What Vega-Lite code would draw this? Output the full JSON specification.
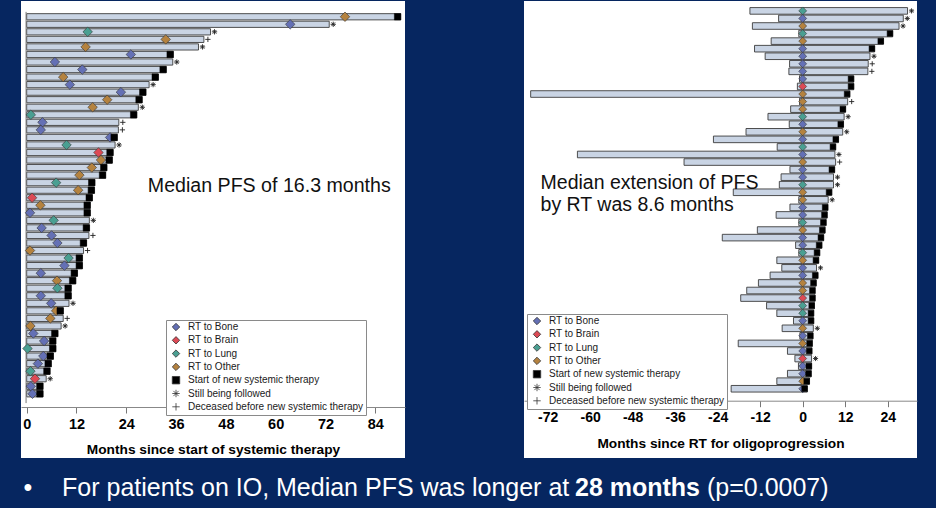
{
  "$schema": "https://vega.github.io/schema/vega-lite/v6.json",
  "background": "#062660",
  "padding": {"left": 21, "top": 1, "right": 19, "bottom": 0},
  "config": {"view": {"stroke": null}, "font": "Liberation Sans"},
  "spacing": 0,
  "resolve": {"scale": {"x": "independent", "y": "independent", "color": "independent", "shape": "independent"}, "legend": {"color": "independent", "shape": "independent"}},
  "vconcat": [
    {
      "hconcat": [
        {
          "width": 384,
          "height": 457,
          "view": {"fill": "white"},
          "data": {"values": [
            {"row":1,"rt_t":76.7,"end":90.1,"site":"Other","evt":"S"},
            {"row":2,"rt_t":63.5,"end":72.9,"site":"Bone","evt":"F"},
            {"row":3,"rt_t":14.7,"end":44.3,"site":"Lung","evt":"F"},
            {"row":4,"rt_t":33.5,"end":42.7,"site":"Other","evt":"D"},
            {"row":5,"rt_t":14.2,"end":41.4,"site":"Other","evt":"F"},
            {"row":6,"rt_t":25.1,"end":35.3,"site":"Bone","evt":"S"},
            {"row":7,"rt_t":6.8,"end":35.2,"site":"Bone","evt":"F"},
            {"row":8,"rt_t":13.4,"end":33.6,"site":"Bone","evt":"S"},
            {"row":9,"rt_t":8.8,"end":31.7,"site":"Other","evt":"S"},
            {"row":10,"rt_t":10.4,"end":29.5,"site":"Bone","evt":"F"},
            {"row":11,"rt_t":22.7,"end":28.7,"site":"Bone","evt":"S"},
            {"row":12,"rt_t":19.4,"end":27.8,"site":"Other","evt":"S"},
            {"row":13,"rt_t":15.9,"end":26.9,"site":"Other","evt":"F"},
            {"row":14,"rt_t":1.0,"end":26.5,"site":"Lung","evt":"S"},
            {"row":15,"rt_t":3.8,"end":22.2,"site":"Bone","evt":"D"},
            {"row":16,"rt_t":3.4,"end":22.1,"site":"Bone","evt":"D"},
            {"row":17,"rt_t":20.1,"end":21.8,"site":"Bone","evt":"S"},
            {"row":18,"rt_t":9.6,"end":21.3,"site":"Lung","evt":"F"},
            {"row":19,"rt_t":17.3,"end":20.8,"site":"Brain","evt":"S"},
            {"row":20,"rt_t":17.9,"end":20.6,"site":"Other","evt":"S"},
            {"row":21,"rt_t":15.7,"end":19.3,"site":"Other","evt":"S"},
            {"row":22,"rt_t":12.7,"end":19.0,"site":"Other","evt":"S"},
            {"row":23,"rt_t":7.1,"end":16.4,"site":"Lung","evt":"S"},
            {"row":24,"rt_t":12.4,"end":16.3,"site":"Other","evt":"S"},
            {"row":25,"rt_t":1.3,"end":15.8,"site":"Brain","evt":"S"},
            {"row":26,"rt_t":3.3,"end":15.3,"site":"Other","evt":"S"},
            {"row":27,"rt_t":0.8,"end":15.3,"site":"Bone","evt":"S"},
            {"row":28,"rt_t":6.5,"end":15.1,"site":"Lung","evt":"F"},
            {"row":29,"rt_t":3.6,"end":15.1,"site":"Bone","evt":"S"},
            {"row":30,"rt_t":6.0,"end":15.0,"site":"Bone","evt":"D"},
            {"row":31,"rt_t":7.4,"end":14.4,"site":"Bone","evt":"S"},
            {"row":32,"rt_t":0.8,"end":13.7,"site":"Other","evt":"D"},
            {"row":33,"rt_t":10.1,"end":13.4,"site":"Lung","evt":"S"},
            {"row":34,"rt_t":9.1,"end":13.4,"site":"Bone","evt":"S"},
            {"row":35,"rt_t":3.4,"end":12.2,"site":"Bone","evt":"S"},
            {"row":36,"rt_t":7.3,"end":11.8,"site":"Other","evt":"S"},
            {"row":37,"rt_t":7.4,"end":10.7,"site":"Lung","evt":"S"},
            {"row":38,"rt_t":3.4,"end":10.7,"site":"Bone","evt":"S"},
            {"row":39,"rt_t":5.9,"end":10.2,"site":"Bone","evt":"F"},
            {"row":40,"rt_t":7.1,"end":8.8,"site":"Other","evt":"S"},
            {"row":41,"rt_t":5.7,"end":8.8,"site":"Other","evt":"D"},
            {"row":42,"rt_t":0.9,"end":8.3,"site":"Other","evt":"F"},
            {"row":43,"rt_t":1.6,"end":7.5,"site":"Bone","evt":"S"},
            {"row":44,"rt_t":4.2,"end":7.0,"site":"Bone","evt":"S"},
            {"row":45,"rt_t":0.2,"end":7.0,"site":"Lung","evt":"S"},
            {"row":46,"rt_t":4.0,"end":6.4,"site":"Bone","evt":"S"},
            {"row":47,"rt_t":2.7,"end":5.9,"site":"Bone","evt":"S"},
            {"row":48,"rt_t":0.9,"end":5.6,"site":"Lung","evt":"S"},
            {"row":49,"rt_t":2.0,"end":4.7,"site":"Brain","evt":"F"},
            {"row":50,"rt_t":1.0,"end":3.9,"site":"Bone","evt":"S"},
            {"row":51,"rt_t":1.4,"end":3.9,"site":"Bone","evt":"S"}
          ]},
          "layer": [
            {
              "mark": {"type": "bar", "orient": "horizontal", "size": 6.2, "fill": "#c9d4e4", "stroke": "#3c3c3c", "strokeWidth": 0.9},
              "encoding": {
                "x": {"field": "end", "type": "quantitative", "title": "Months since start of systemic therapy",
                  "scale": {"domain": [-1.37, 91.16], "nice": false, "zero": false},
                  "axis": {"values": [0, 12, 24, 36, 48, 60, 72, 84], "offset": -51, "grid": false, "labelExpr": "toString(datum.value)",
                    "labelFont": "Liberation Sans", "labelFontSize": 14.5, "labelFontWeight": "bold", "labelColor": "#000", "labelPadding": 4, "labelFlush": false,
                    "tickSize": 6, "tickColor": "#777", "domainColor": "#888",
                    "titleFont": "Liberation Sans", "titleFontSize": 13.7, "titleFontWeight": "bold", "titleColor": "#000", "titlePadding": 12}},
                "x2": {"datum": 0},
                "y": {"field": "row", "type": "quantitative", "scale": {"domain": [-0.427, 58.85], "reverse": true, "nice": false, "zero": false}, "axis": null}
              }
            },
            {
              "data": {"values": [{}]},
              "mark": {"type": "rule", "color": "#777", "strokeWidth": 1},
              "encoding": {
                "x": {"datum": -0.15, "type": "quantitative"},
                "y": {"datum": 0.35, "type": "quantitative"},
                "y2": {"datum": 52.23}
              }
            },
            {
              "data": {"values": [{}]},
              "mark": {"type": "text", "text": "Median PFS of 16.3 months", "font": "Liberation Sans", "fontSize": 19.6, "color": "#111", "align": "left", "baseline": "middle"},
              "encoding": {
                "x": {"datum": 29.2, "type": "quantitative"},
                "y": {"datum": 23.44, "type": "quantitative"}
              }
            },
            {
              "encoding": {
                "y": {"field": "row", "type": "quantitative"},
                "color": {"field": "key", "type": "nominal",
                  "scale": {"domain": ["Bone", "Brain", "Lung", "Other", "S", "F", "D"], "range": ["#6470b5", "#dc4a55", "#4a9f92", "#b4823f", "#000000", "#222222", "#555555"]},
                  "legend": {"title": null, "orient": "none", "legendX": 145, "legendY": 319,
                    "labelExpr": "datum.label == 'S' ? 'Start of new systemic therapy' : datum.label == 'F' ? 'Still being followed' : datum.label == 'D' ? 'Deceased before new systemic therapy' : 'RT to ' + datum.label",
                    "strokeColor": "#8a8a8a", "fillColor": "white", "padding": 2, "rowPadding": 1.3,
                    "labelFont": "Liberation Sans", "labelFontSize": 10, "labelColor": "#1a1a1a", "labelLimit": 300,
                    "symbolSize": 55, "symbolStrokeColor": "#333", "symbolStrokeWidth": 0.7, "symbolOpacity": 1, "labelOffset": 7, "symbolOffset": 3,
                    "encode": {"symbols": {"update": {"stroke": {"value": "#333"}, "strokeWidth": {"value": 0.8}, "opacity": {"value": 1}}}}}},
                "shape": {"field": "key", "type": "nominal",
                  "scale": {"domain": ["Bone", "Brain", "Lung", "Other", "S", "F", "D"], "range": ["diamond", "diamond", "diamond", "diamond", "square", "M-1,0L1,0M0,-1L0,1M-0.7,-0.7L0.7,0.7M-0.7,0.7L0.7,-0.7", "M-1,0L1,0M0,-1L0,1"]},
                  "legend": {"title": null, "orient": "none", "legendX": 145, "legendY": 319,
                    "labelExpr": "datum.label == 'S' ? 'Start of new systemic therapy' : datum.label == 'F' ? 'Still being followed' : datum.label == 'D' ? 'Deceased before new systemic therapy' : 'RT to ' + datum.label",
                    "strokeColor": "#8a8a8a", "fillColor": "white", "padding": 2, "rowPadding": 1.3,
                    "labelFont": "Liberation Sans", "labelFontSize": 10, "labelColor": "#1a1a1a", "labelLimit": 300,
                    "symbolSize": 55, "symbolStrokeColor": "#333", "symbolStrokeWidth": 0.7, "symbolOpacity": 1, "labelOffset": 7, "symbolOffset": 3,
                    "encode": {"symbols": {"update": {"stroke": {"value": "#333"}, "strokeWidth": {"value": 0.8}, "opacity": {"value": 1}}}}}}
              },
              "layer": [
                {
                  "transform": [{"calculate": "datum.site", "as": "key"}],
                  "mark": {"type": "point", "filled": true, "opacity": 1, "stroke": "#333", "strokeWidth": 0.6, "size": 90},
                  "encoding": {"x": {"field": "rt_t", "type": "quantitative", "title": "Months since start of systemic therapy"}}
                },
                {
                  "transform": [{"filter": "datum.evt == 'S'"}, {"calculate": "datum.evt", "as": "key"}],
                  "mark": {"type": "point", "filled": true, "opacity": 1, "stroke": "#000", "strokeWidth": 0.5, "size": 42, "xOffset": -3},
                  "encoding": {"x": {"field": "end", "type": "quantitative", "title": "Months since start of systemic therapy"}}
                },
                {
                  "transform": [{"filter": "datum.evt != 'S'"}, {"calculate": "datum.evt", "as": "key"}],
                  "mark": {"type": "point", "filled": true, "opacity": 1, "stroke": "#222", "strokeWidth": 0.9, "size": 28, "xOffset": 4},
                  "encoding": {"x": {"field": "end", "type": "quantitative", "title": "Months since start of systemic therapy"}}
                }
              ]
            }
          ]
        },
        {
          "width": 393,
          "height": 457,
          "view": {"fill": "white"},
          "data": {"values": [
            {"row":1,"start":-14.9,"end":29.6,"site":"Lung","evt":"F"},
            {"row":2,"start":-6.8,"end":28.4,"site":"Bone","evt":"F"},
            {"row":3,"start":-14.2,"end":27.2,"site":"Other","evt":"F"},
            {"row":4,"start":-1.1,"end":25.4,"site":"Lung","evt":"S"},
            {"row":5,"start":-8.9,"end":22.8,"site":"Other","evt":"S"},
            {"row":6,"start":-13.6,"end":20.3,"site":"Bone","evt":"S"},
            {"row":7,"start":-10.6,"end":19.0,"site":"Bone","evt":"F"},
            {"row":8,"start":-3.7,"end":18.5,"site":"Bone","evt":"D"},
            {"row":9,"start":-3.9,"end":18.4,"site":"Bone","evt":"D"},
            {"row":10,"start":-0.9,"end":14.4,"site":"Bone","evt":"S"},
            {"row":11,"start":-1.5,"end":14.4,"site":"Brain","evt":"S"},
            {"row":12,"start":-76.8,"end":13.3,"site":"Other","evt":"S"},
            {"row":13,"start":-0.9,"end":12.7,"site":"Other","evt":"D"},
            {"row":14,"start":-3.4,"end":12.1,"site":"Other","evt":"S"},
            {"row":15,"start":-9.8,"end":11.7,"site":"Lung","evt":"F"},
            {"row":16,"start":-3.8,"end":11.5,"site":"Bone","evt":"S"},
            {"row":17,"start":-16.0,"end":11.3,"site":"Other","evt":"F"},
            {"row":18,"start":-25.2,"end":10.1,"site":"Bone","evt":"S"},
            {"row":19,"start":-7.2,"end":9.3,"site":"Lung","evt":"S"},
            {"row":20,"start":-63.6,"end":9.1,"site":"Bone","evt":"F"},
            {"row":21,"start":-33.5,"end":9.3,"site":"Other","evt":"D"},
            {"row":22,"start":-3.6,"end":9.0,"site":"Bone","evt":"S"},
            {"row":23,"start":-6.1,"end":8.7,"site":"Bone","evt":"F"},
            {"row":24,"start":-6.6,"end":8.7,"site":"Lung","evt":"F"},
            {"row":25,"start":-19.6,"end":8.2,"site":"Other","evt":"S"},
            {"row":26,"start":-1.1,"end":7.2,"site":"Other","evt":"F"},
            {"row":27,"start":-3.6,"end":7.1,"site":"Bone","evt":"S"},
            {"row":28,"start":-7.5,"end":6.9,"site":"Bone","evt":"S"},
            {"row":29,"start":-1.1,"end":6.6,"site":"Lung","evt":"S"},
            {"row":30,"start":-12.8,"end":6.3,"site":"Other","evt":"S"},
            {"row":31,"start":-22.7,"end":5.9,"site":"Bone","evt":"S"},
            {"row":32,"start":-2.0,"end":5.4,"site":"Bone","evt":"S"},
            {"row":33,"start":-1.1,"end":4.8,"site":"Lung","evt":"S"},
            {"row":34,"start":-7.3,"end":4.5,"site":"Other","evt":"S"},
            {"row":35,"start":-5.9,"end":3.9,"site":"Bone","evt":"F"},
            {"row":36,"start":-9.2,"end":4.3,"site":"Bone","evt":"S"},
            {"row":37,"start":-12.5,"end":3.8,"site":"Other","evt":"S"},
            {"row":38,"start":-15.8,"end":3.5,"site":"Other","evt":"S"},
            {"row":39,"start":-17.5,"end":3.5,"site":"Brain","evt":"S"},
            {"row":40,"start":-10.2,"end":3.3,"site":"Lung","evt":"S"},
            {"row":41,"start":-7.3,"end":3.1,"site":"Lung","evt":"S"},
            {"row":42,"start":-2.6,"end":3.1,"site":"Bone","evt":"S"},
            {"row":43,"start":-5.8,"end":3.0,"site":"Other","evt":"F"},
            {"row":44,"start":-0.8,"end":2.9,"site":"Bone","evt":"S"},
            {"row":45,"start":-18.2,"end":2.7,"site":"Other","evt":"S"},
            {"row":46,"start":-4.3,"end":2.6,"site":"Bone","evt":"S"},
            {"row":47,"start":-2.2,"end":2.5,"site":"Brain","evt":"F"},
            {"row":48,"start":-1.2,"end":2.5,"site":"Bone","evt":"S"},
            {"row":49,"start":-4.3,"end":2.4,"site":"Bone","evt":"S"},
            {"row":50,"start":-7.3,"end":1.9,"site":"Other","evt":"S"},
            {"row":51,"start":-20.2,"end":1.3,"site":"Bone","evt":"S"}
          ]},
          "layer": [
            {
              "mark": {"type": "bar", "orient": "horizontal", "size": 6.6, "fill": "#c9d4e4", "stroke": "#3c3c3c", "strokeWidth": 0.9},
              "encoding": {
                "x": {"field": "start", "type": "quantitative", "title": "Months since RT for oligoprogression",
                  "scale": {"domain": [-78.68, 32.27], "nice": false, "zero": false},
                  "axis": {"values": [-72, -60, -48, -36, -24, -12, 0, 12, 24], "offset": -57.3, "grid": false, "labelExpr": "toString(datum.value)",
                    "labelFont": "Liberation Sans", "labelFontSize": 14, "labelFontWeight": "bold", "labelColor": "#000", "labelPadding": 4, "labelFlush": false,
                    "tickSize": 6, "tickColor": "#777", "domainColor": "#888",
                    "titleFont": "Liberation Sans", "titleFontSize": 13.7, "titleFontWeight": "bold", "titleColor": "#000", "titlePadding": 12}},
                "x2": {"field": "end"},
                "y": {"field": "row", "type": "quantitative", "scale": {"domain": [0.353, 59.5], "reverse": true, "nice": false, "zero": false}, "axis": null}
              }
            },
            {
              "data": {"values": [{}]},
              "mark": {"type": "text", "text": "Median extension of PFS", "font": "Liberation Sans", "fontSize": 19.5, "color": "#111", "align": "left", "baseline": "middle"},
              "encoding": {
                "x": {"datum": -74.0, "type": "quantitative"},
                "y": {"datum": 23.74, "type": "quantitative"}
              }
            },
            {
              "data": {"values": [{}]},
              "mark": {"type": "text", "text": "by RT was 8.6 months", "font": "Liberation Sans", "fontSize": 19.5, "color": "#111", "align": "left", "baseline": "middle"},
              "encoding": {
                "x": {"datum": -74.0, "type": "quantitative"},
                "y": {"datum": 26.63, "type": "quantitative"}
              }
            },
            {
              "encoding": {
                "y": {"field": "row", "type": "quantitative"},
                "color": {"field": "key", "type": "nominal",
                  "scale": {"domain": ["Bone", "Brain", "Lung", "Other", "S", "F", "D"], "range": ["#6470b5", "#dc4a55", "#4a9f92", "#b4823f", "#000000", "#222222", "#555555"]},
                  "legend": {"title": null, "orient": "none", "legendX": 3, "legendY": 313,
                    "labelExpr": "datum.label == 'S' ? 'Start of new systemic therapy' : datum.label == 'F' ? 'Still being followed' : datum.label == 'D' ? 'Deceased before new systemic therapy' : 'RT to ' + datum.label",
                    "strokeColor": "#8a8a8a", "fillColor": "white", "padding": 2, "rowPadding": 1.3,
                    "labelFont": "Liberation Sans", "labelFontSize": 10, "labelColor": "#1a1a1a", "labelLimit": 300,
                    "symbolSize": 55, "symbolStrokeColor": "#333", "symbolStrokeWidth": 0.7, "symbolOpacity": 1, "labelOffset": 7, "symbolOffset": 3,
                    "encode": {"symbols": {"update": {"stroke": {"value": "#333"}, "strokeWidth": {"value": 0.8}, "opacity": {"value": 1}}}}}},
                "shape": {"field": "key", "type": "nominal",
                  "scale": {"domain": ["Bone", "Brain", "Lung", "Other", "S", "F", "D"], "range": ["diamond", "diamond", "diamond", "diamond", "square", "M-1,0L1,0M0,-1L0,1M-0.7,-0.7L0.7,0.7M-0.7,0.7L0.7,-0.7", "M-1,0L1,0M0,-1L0,1"]},
                  "legend": {"title": null, "orient": "none", "legendX": 3, "legendY": 313,
                    "labelExpr": "datum.label == 'S' ? 'Start of new systemic therapy' : datum.label == 'F' ? 'Still being followed' : datum.label == 'D' ? 'Deceased before new systemic therapy' : 'RT to ' + datum.label",
                    "strokeColor": "#8a8a8a", "fillColor": "white", "padding": 2, "rowPadding": 1.3,
                    "labelFont": "Liberation Sans", "labelFontSize": 10, "labelColor": "#1a1a1a", "labelLimit": 300,
                    "symbolSize": 55, "symbolStrokeColor": "#333", "symbolStrokeWidth": 0.7, "symbolOpacity": 1, "labelOffset": 7, "symbolOffset": 3,
                    "encode": {"symbols": {"update": {"stroke": {"value": "#333"}, "strokeWidth": {"value": 0.8}, "opacity": {"value": 1}}}}}}
              },
              "layer": [
                {
                  "transform": [{"calculate": "datum.site", "as": "key"}],
                  "mark": {"type": "point", "filled": true, "opacity": 1, "stroke": "#333", "strokeWidth": 0.6, "size": 62},
                  "encoding": {"x": {"datum": 0, "type": "quantitative"}}
                },
                {
                  "transform": [{"filter": "datum.evt == 'S'"}, {"calculate": "datum.evt", "as": "key"}],
                  "mark": {"type": "point", "filled": true, "opacity": 1, "stroke": "#000", "strokeWidth": 0.5, "size": 32, "xOffset": -2.7},
                  "encoding": {"x": {"field": "end", "type": "quantitative", "title": "Months since RT for oligoprogression"}}
                },
                {
                  "transform": [{"filter": "datum.evt != 'S'"}, {"calculate": "datum.evt", "as": "key"}],
                  "mark": {"type": "point", "filled": true, "opacity": 1, "stroke": "#222", "strokeWidth": 0.9, "size": 26, "xOffset": 4},
                  "encoding": {"x": {"field": "end", "type": "quantitative", "title": "Months since RT for oligoprogression"}}
                }
              ]
            }
          ]
        }
      ],
      "spacing": 119,
      "bounds": "flush",
      "resolve": {"scale": {"x": "independent", "y": "independent", "color": "independent", "shape": "independent"}, "legend": {"color": "independent", "shape": "independent"}}
    },
    {
      "width": 896,
      "height": 50,
      "data": {"values": [{}]},
      "layer": [
        {
          "mark": {"type": "text", "text": "•", "font": "Liberation Sans", "fontSize": 25, "color": "white", "align": "center", "baseline": "middle"},
          "encoding": {
            "x": {"datum": 0.78, "type": "quantitative", "scale": {"domain": [0, 100], "nice": false, "zero": false}, "axis": null},
            "y": {"datum": 0.4, "type": "quantitative", "scale": {"domain": [0, 1], "nice": false}, "axis": null}
          }
        },
        {
          "mark": {"type": "text", "text": "For patients on IO, Median PFS was longer at", "font": "Liberation Sans", "fontSize": 25, "color": "white", "align": "left", "baseline": "middle"},
          "encoding": {"x": {"datum": 4.58, "type": "quantitative"}, "y": {"datum": 0.4, "type": "quantitative"}}
        },
        {
          "mark": {"type": "text", "text": "28 months", "font": "Liberation Sans", "fontSize": 25, "fontWeight": "bold", "color": "white", "align": "left", "baseline": "middle"},
          "encoding": {"x": {"datum": 61.83, "type": "quantitative"}, "y": {"datum": 0.4, "type": "quantitative"}}
        },
        {
          "mark": {"type": "text", "text": "(p=0.0007)", "font": "Liberation Sans", "fontSize": 25, "color": "white", "align": "left", "baseline": "middle"},
          "encoding": {"x": {"datum": 76.56, "type": "quantitative"}, "y": {"datum": 0.4, "type": "quantitative"}}
        }
      ]
    }
  ]
}
